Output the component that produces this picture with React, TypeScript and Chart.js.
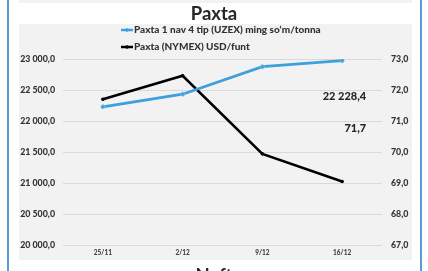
import React, { useEffect, useRef } from "react";
import { Chart, registerables } from "chart.js";

Chart.register(...registerables);

const categories = ["25/11", "2/12", "9/12", "16/12"];
const uzexLabel = "Paxta 1 nav 4 tip (UZEX) ming so‘m/tonna";
const nymexLabel = "Paxta (NYMEX) USD/funt";
const uzexValues = [22228.4, 22432, 22876, 22973];
const nymexValues = [71.7, 72.46, 69.94, 69.05];
const leftTicks = [20000, 20500, 21000, 21500, 22000, 22500, 23000];
const rightTicks = [67, 68, 69, 70, 71, 72, 73];
const valueLabels = ["22 228,4", "71,7"];
const title = "Paxta";
const nextTitle = "Neft";

const BLUE = "#3d9fdc";
const FONT = "Lato, 'DejaVu Sans', sans-serif";
const W = "900";

function fmtLeft(v: number) {
  const s = v.toFixed(1).replace(".", ",");
  const [i, d] = s.split(",");
  return i.replace(/\B(?=(\d{3})+(?!\d))/g, " ") + "," + d;
}
function fmtRight(v: number) {
  return v.toFixed(1).replace(".", ",");
}

const decor = {
  id: "decor",
  beforeDraw(chart: any) {
    const ctx = chart.ctx;
    ctx.save();
    ctx.fillStyle = "#ffffff";
    ctx.fillRect(0, 0, chart.width, chart.height);
    ctx.fillStyle = "#f2f2f2";
    ctx.fillRect(19, 0, 393, 3);
    ctx.fillRect(19, 24, 393, 236);
    ctx.fillStyle = "#5b9bd5";
    ctx.fillRect(7, 0, 2, chart.height);
    ctx.fillRect(420, 0, 2, chart.height);
    ctx.restore();
  },
  afterDraw(chart: any) {
    const ctx = chart.ctx;
    ctx.save();
    // title
    ctx.fillStyle = "#262626";
    ctx.font = `bold 18.5px ${FONT}`;
    ctx.textAlign = "center";
    ctx.textBaseline = "alphabetic";
    ctx.fillText(title, 214, 20);
    ctx.fillText(nextTitle, 214, 282);
    // legend
    const rows = [30, 47];
    chart.data.datasets.forEach((ds: any, i: number) => {
      const y = rows[i];
      ctx.strokeStyle = ds.borderColor;
      ctx.lineWidth = 2.5;
      ctx.beginPath();
      ctx.moveTo(121, y);
      ctx.lineTo(133, y);
      ctx.stroke();
      ctx.fillStyle = ds.borderColor;
      ctx.beginPath();
      ctx.arc(127, y, 1.8, 0, Math.PI * 2);
      ctx.fill();
      ctx.fillStyle = "#333333";
      ctx.font = `${W} 10px ${FONT}`;
      ctx.textAlign = "left";
      ctx.textBaseline = "middle";
      ctx.fillText(ds.label, 134, y);
    });
    // value labels
    const x = chart.scales.x;
    const yl = chart.scales.y;
    const yr = chart.scales.y1;
    const px = x.getPixelForValue(categories.length - 1) + 24;
    ctx.fillStyle = "#262626";
    ctx.font = `${W} 11px ${FONT}`;
    ctx.textAlign = "right";
    ctx.textBaseline = "middle";
    ctx.fillText(valueLabels[0], px, yl.getPixelForValue(22390));
    ctx.fillText(valueLabels[1], px, yr.getPixelForValue(70.75));
    ctx.restore();
  },
};

export default function App() {
  const ref = useRef<HTMLCanvasElement | null>(null);
  useEffect(() => {
    if (!ref.current) return;
    const chart = new Chart(ref.current, {
      type: "line",
      data: {
        labels: categories,
        datasets: [
          {
            label: uzexLabel,
            data: uzexValues,
            yAxisID: "y",
            borderColor: BLUE,
            backgroundColor: BLUE,
            borderWidth: 2.8,
            pointRadius: 2,
            pointBorderColor: "#7cc3ee",
            pointBackgroundColor: BLUE,
            pointBorderWidth: 0.8,
            tension: 0,
          },
          {
            label: nymexLabel,
            data: nymexValues,
            yAxisID: "y1",
            borderColor: "#000000",
            backgroundColor: "#000000",
            borderWidth: 2.5,
            pointRadius: 1.8,
            pointBackgroundColor: "#000000",
            pointBorderWidth: 0,
            tension: 0,
          },
        ],
      },
      plugins: [decor],
      options: {
        responsive: false,
        animation: false,
        layout: { padding: { top: 59, bottom: 0, left: 0, right: 0 } },
        plugins: { legend: { display: false }, title: { display: false }, tooltip: { enabled: false } },
        scales: {
          x: {
            offset: true,
            grid: { display: false, drawTicks: false },
            border: { display: false },
            ticks: { color: "#404040", font: { family: FONT, size: 6.5, weight: W }, padding: 4, maxRotation: 0 },
            afterFit(s: any) { s.height = 26; },
          },
          y: {
            position: "left",
            min: 20000,
            max: 23000,
            afterBuildTicks(s: any) { s.ticks = leftTicks.map((v) => ({ value: v })); },
            grid: { color: "#d9d9d9", lineWidth: 1, drawTicks: false },
            border: { display: false },
            ticks: { color: "#333333", font: { family: FONT, size: 8.8, weight: W }, padding: 8, callback: (v: any) => fmtLeft(Number(v)) },
            afterFit(s: any) { s.width = 63; },
          },
          y1: {
            position: "right",
            min: 67,
            max: 73,
            afterBuildTicks(s: any) { s.ticks = rightTicks.map((v) => ({ value: v })); },
            grid: { display: false, drawTicks: false },
            border: { display: false },
            ticks: { color: "#333333", font: { family: FONT, size: 8.8, weight: W }, padding: 9, callback: (v: any) => fmtRight(Number(v)) },
            afterFit(s: any) { s.width = 46; },
          },
        },
      },
    } as any);
    return () => chart.destroy();
  }, []);
  return (
    <div style={{ position: "fixed", left: 0, top: 0, width: 428, height: 271, overflow: "hidden", background: "#fff" }}>
      <canvas ref={ref} width={428} height={271} style={{ display: "block", width: 428, height: 271 }} />
    </div>
  );
}
